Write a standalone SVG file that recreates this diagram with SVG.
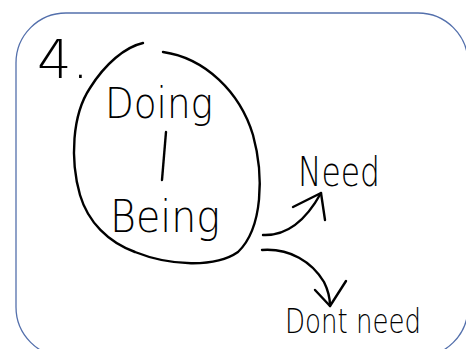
<svg xmlns="http://www.w3.org/2000/svg" width="466" height="349" viewBox="0 0 466 349">
<style>
.ink{fill:none;stroke:#000;stroke-width:2.4;stroke-linecap:round;stroke-linejoin:round}
.hand{font-family:"DejaVu Sans","Liberation Sans",sans-serif;fill:#000;font-weight:300}
</style>
<rect x="16" y="13" width="452" height="344" rx="50" ry="50" fill="#fff" stroke="#5470AC" stroke-width="1.3"/>
<g id="label-4">
<text class="hand" x="37" y="78" font-size="54" textLength="52" lengthAdjust="spacingAndGlyphs">4.</text>
</g>
<g id="node-doing-being">
<path class="ink" d="M163,52 C205,58 240,92 253,135 C264,175 263,228 238,252 C215,268 170,266 135,252 C108,242 88,222 80,195 C70,160 72,115 90,88 C105,64 125,47 143,43"/>
<text class="hand" x="105" y="118" font-size="42" textLength="108" lengthAdjust="spacingAndGlyphs">Doing</text>
<path class="ink" d="M166,132 L162,180"/>
<text class="hand" x="110" y="232" font-size="44" textLength="110" lengthAdjust="spacingAndGlyphs">Being</text>
</g>
<g id="node-need">
<text class="hand" x="298" y="186" font-size="40" textLength="82" lengthAdjust="spacingAndGlyphs">Need</text>
</g>
<g id="node-dont-need">
<text class="hand" x="285" y="333" font-size="34" textLength="136" lengthAdjust="spacingAndGlyphs">Dont need</text>
</g>
<g id="connectors">
<path class="ink" d="M263,235 C285,236 305,222 321,193"/>
<path class="ink" d="M293,207 L321,193 L325,220" stroke-width="3"/>
<path class="ink" d="M262,250 C290,248 312,262 324,282 C328,290 330,298 330,306"/>
<path class="ink" d="M315,290 L330,306 L346,281" stroke-width="3"/>
</g>
</svg>
